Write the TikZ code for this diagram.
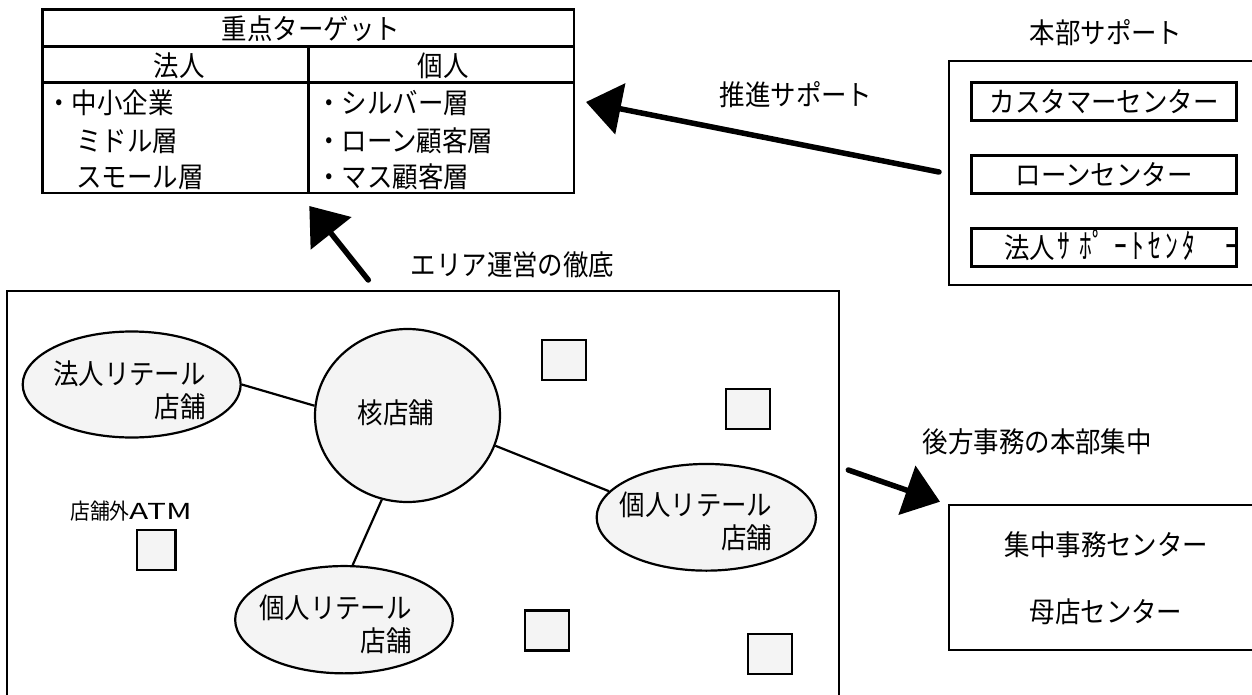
\documentclass[tikz,border=0pt]{standalone}
\usepackage{fontspec}
\usepackage{graphicx}
\setmainfont[FakeStretch=0.9]{Noto Sans CJK JP}
\usetikzlibrary{arrows.meta,shapes.geometric}
\definecolor{lightfill}{HTML}{F4F4F4}
\newcommand\hwc[1]{\makebox[17pt]{\scalebox{1}[1.2]{#1}}}
\begin{document}
\begin{tikzpicture}[x=1pt,y=-1pt,
  lbl/.style={inner sep=0pt, font=\fontsize{28.3}{33}\selectfont, text height=24.9pt, text depth=3.4pt},
  lbltwo/.style={inner sep=0pt, align=right, font=\fontsize{28.3}{33}\selectfont},
  shop/.style={ellipse, draw, line width=2.2pt, fill=lightfill, inner sep=0pt},
  sq/.style={draw, line width=2.4pt, fill=lightfill, inner sep=0pt, minimum width=44pt, minimum height=40pt},
  ibox/.style={draw, line width=3pt, inner sep=0pt, minimum width=265pt, minimum height=38pt, font=\fontsize{28.3}{33}\selectfont, text height=24.9pt, text depth=3.4pt},
  link/.style={line width=2.2pt},
  bigarrow/.style={line width=5.5pt, line cap=round, -{Triangle[length=35pt,width=51pt]}}
]
\path[use as bounding box, clip] (0,0) rectangle (1252,695);
\fill[white] (0,0) rectangle (1252,695);

% --- target table ---
\draw[line width=2.8pt] (42.7,9.3) rectangle (574,193);
\draw[line width=2.8pt] (42.7,46.7) -- (574,46.7);
\draw[line width=2.8pt] (42.7,82.7) -- (574,82.7);
\draw[line width=2.8pt] (308.7,46.7) -- (308.7,193);
\node[lbl] (tt) at (311,29) {重点ターゲット};
\node[lbl] (th1) at (179,66) {法人};
\node[lbl] (th2) at (443,66) {個人};
\node[lbl,anchor=west] (l1) at (46,103) {・中小企業};
\node[lbl,anchor=west] (l2) at (76,141) {ミドル層};
\node[lbl,anchor=west] (l3) at (76,177) {スモール層};
\node[lbl,anchor=west] (r1) at (316,103) {・シルバー層};
\node[lbl,anchor=west] (r2) at (316,141) {・ローン顧客層};
\node[lbl,anchor=west] (r3) at (316,177) {・マス顧客層};

% --- HQ support panel ---
\draw[line width=2pt] (949,61) rectangle (1270,285);
\node[lbl] (hqt) at (1106,32.5) {本部サポート};
\node[ibox] (c1) at (1104.2,101.7) {カスタマーセンター};
\node[ibox] (c2) at (1104.2,174.5) {ローンセンター};
\node[ibox] (c3) at (1104.2,247.9) {};
\node[lbl,anchor=west] (c3t) at (1004,248) {法人\hwc{ｻ}\hspace{11.5pt}\hwc{ﾎﾟ}\hspace{12pt}\hwc{ｰ}\hwc{ﾄ}\hwc{ｾ}\hwc{ﾝ}\hwc{ﾀ}\hspace{26pt}\hwc{ｰ}};
\node[lbl] (push) at (796,95) {推進サポート};

% --- area panel ---
\draw[line width=2pt] (7,291) rectangle (839,720);
\node[shop, minimum width=218pt, minimum height=106pt] (e1) at (131.7,384.5) {};
\node[shop, minimum width=185pt, minimum height=173pt] (core) at (407.5,415.5) {};
\node[shop, minimum width=219.3pt, minimum height=106.7pt] (e3) at (706.3,517.3) {};
\node[shop, minimum width=217.7pt, minimum height=107.3pt] (e4) at (344,619.7) {};
\draw[link] (e1.east) -- (core.174);
\draw[link] (core.-19) -- (e3.165);
\draw[link] (core.253) -- (e4.81);
\node[lbltwo] (t1) at (129.5,390.5) {法人リテール\\店舗};
\node[lbl] (coret) at (396,413) {核店舗};
\node[lbltwo] (t3) at (696,521.5) {個人リテール\\店舗};
\node[lbltwo] (t4) at (335.5,624) {個人リテール\\店舗};
\node[inner sep=0pt, font=\fontsize{22}{26}\selectfont] (atmt) at (131,511) {店舗外\scalebox{1.6}[1]{ATM}};
\node[sq, minimum width=38.5pt] (s5) at (156.3,550) {};
\node[sq] (s1) at (563.8,360) {};
\node[sq] (s2) at (748,409) {};
\node[sq] (s3) at (547,630.3) {};
\node[sq] (s4) at (770,653.8) {};
\node[lbl] (area) at (512.5,265) {エリア運営の徹底};

% --- back office panel ---
\draw[line width=2pt] (949,505) rectangle (1270,650);
\node[lbl] (bot) at (1037.3,441.5) {後方事務の本部集中};
\node[lbl] (b1) at (1106.5,545) {集中事務センター};
\node[lbl] (b2) at (1106,612) {母店センター};

% --- arrows ---
\coordinate (a1s) at (939,172);
\coordinate (a1e) at (586,102);
\coordinate (a2s) at (368.3,280);
\coordinate (a2e) at (309.3,206);
\coordinate (a3s) at (848.3,470);
\coordinate (a3e) at (940,501.7);
\draw[bigarrow] (a1s) -- (a1e);
\draw[bigarrow] (a2s) -- (a2e);
\draw[bigarrow] (a3s) -- (a3e);
\end{tikzpicture}
\end{document}
